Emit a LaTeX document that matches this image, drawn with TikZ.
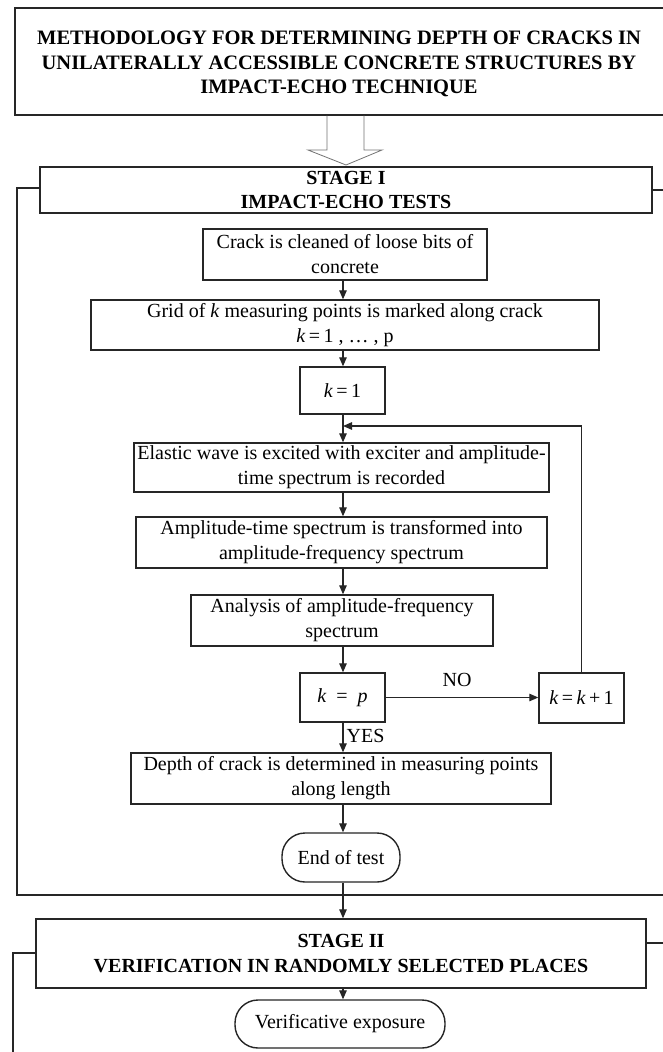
\documentclass[tikz,border=0pt]{standalone}
\usepackage{fontspec}
\setmainfont{Liberation Serif}
\usetikzlibrary{arrows.meta,calc}
\begin{document}
\begin{tikzpicture}[x=1pt,y=-1pt,
  ink/.style={draw=black!85,line width=1.4pt},
  box/.style={ink,rectangle,inner sep=0pt,align=center,
    font=\fontsize{20}{25}\selectfont},
  headbox/.style={box,font=\fontsize{20}{24.5}\selectfont\bfseries},
  headtext/.style={inner sep=0pt,align=center,font=\fontsize{20.5}{24.5}\selectfont\bfseries},
  term/.style={box,rounded corners=23pt},
  arr/.style={draw=black!85,line width=1.2pt,-{Triangle[length=9pt,width=7.5pt]}},
  frameline/.style={draw=black!85,line width=1.4pt},
  lbl/.style={inner sep=0pt,font=\fontsize{20}{25}\selectfont}
]
\fill[white] (0,0) rectangle (662,1052);
\useasboundingbox (0,0) rectangle (662,1052);

% vertical axis of the main flow
\coordinate (spine) at (343,0);

% heading
\node[ink,minimum width=651pt,minimum height=107pt,inner sep=0pt] (titlebox) at (340.5,61.5) {};
\node[headtext] (title) at (339,64)
  {METHODOLOGY FOR DETERMINING DEPTH OF CRACKS IN\\
   UNILATERALLY ACCESSIBLE CONCRETE STRUCTURES BY\\
   IMPACT-ECHO TECHNIQUE};

% stage I
\node[headbox,minimum width=612pt,minimum height=46pt] (st1) at (346,190)
  {STAGE I\\IMPACT-ECHO TESTS};

% hollow block arrow from heading to stage I
\draw[black!55,line width=0.8pt]
  ($(titlebox.south)+(-13.5,0)$) -- (327,150) -- (308,150) -- (346,165)
  -- (382,150) -- (364,150) -- ($(titlebox.south)+(23.5,0)$);

% frame around stage I
\draw[frameline] (st1.west |- 0,188) -- (17,188) -- (17,895) -- (670,895);
\draw[frameline] (st1.east |- 0,190) -- (670,190);

\node[box,minimum width=284pt,minimum height=51pt] (crack) at (345,254.5)
  {Crack is cleaned of loose bits of\\concrete};
\node[box,minimum width=508pt,minimum height=50pt] (grid) at (345,325)
  {Grid of \textit{k} measuring points is marked along crack\\
   \textit{k}\,=\,1 , \ldots\ , p};
\node[box,minimum width=85pt,minimum height=47pt] (k1) at (342.5,390.5)
  {\textit{k}\,=\,1};
\node[box,minimum width=415pt,minimum height=49pt] (elastic) at (341.5,467.5)
  {Elastic wave is excited with exciter and amplitude-\\
   time spectrum is recorded};
\node[box,minimum width=411pt,minimum height=51pt] (amp) at (341.5,542.5)
  {Amplitude-time spectrum is transformed into\\
   amplitude-frequency spectrum};
\node[box,minimum width=302pt,minimum height=51pt] (anal) at (342,620.5)
  {Analysis of amplitude-frequency\\spectrum};
\node[box,minimum width=85pt,minimum height=49pt] (kp) at (342.5,697.5)
  {\textit{k}\enspace=\enspace\textit{p}};
\node[box,minimum width=85pt,minimum height=50pt] (kk) at (581.5,698)
  {\textit{k}\,=\,\textit{k}\,+\,1};
\node[box,minimum width=420pt,minimum height=51pt] (depth) at (341,778.5)
  {Depth of crack is determined in measuring points\\along length};
\node[term,minimum width=118pt,minimum height=49pt] (end) at (341,857.5)
  {End of test};

% stage II
\node[headbox,minimum width=610pt,minimum height=69pt] (st2) at (341,953.5)
  {STAGE II\\VERIFICATION IN RANDOMLY SELECTED PLACES};
\draw[frameline] (st2.west |- 0,953) -- (13,953) -- (13,1060);
\draw[frameline] (st2.east |- 0,943) -- (670,943);

\node[term,minimum width=210pt,minimum height=48pt] (verif) at (340,1024)
  {Verificative exposure};

% connectors
\draw[arr] (crack.south -| spine) -- (grid.north -| spine);
\draw[arr] (grid.south -| spine) -- (k1.north -| spine);
\draw[arr] (k1.south -| spine) -- (elastic.north -| spine);
\draw[arr] (elastic.south -| spine) -- (amp.north -| spine);
\draw[arr] (amp.south -| spine) -- (anal.north -| spine);
\draw[arr] (anal.south -| spine) -- (kp.north -| spine);
\draw[arr] (kp.east) -- node[lbl,above=10pt,xshift=-5pt] (no) {NO} (kp.east -| kk.west);
\coordinate (loop) at (0,426);
\draw[arr] (kk.north) -- (kk.north |- loop) -- (spine |- loop);
\draw[arr] (kp.south -| spine) -- node[lbl,right=3pt,pos=0.45] (yes) {YES} (depth.north -| spine);
\draw[arr] (depth.south -| spine) -- (end.north -| spine);
\draw[arr] (end.south -| spine) -- (st2.north -| spine);
\draw[arr] (st2.south -| spine) -- (verif.north -| spine);
\end{tikzpicture}
\end{document}
